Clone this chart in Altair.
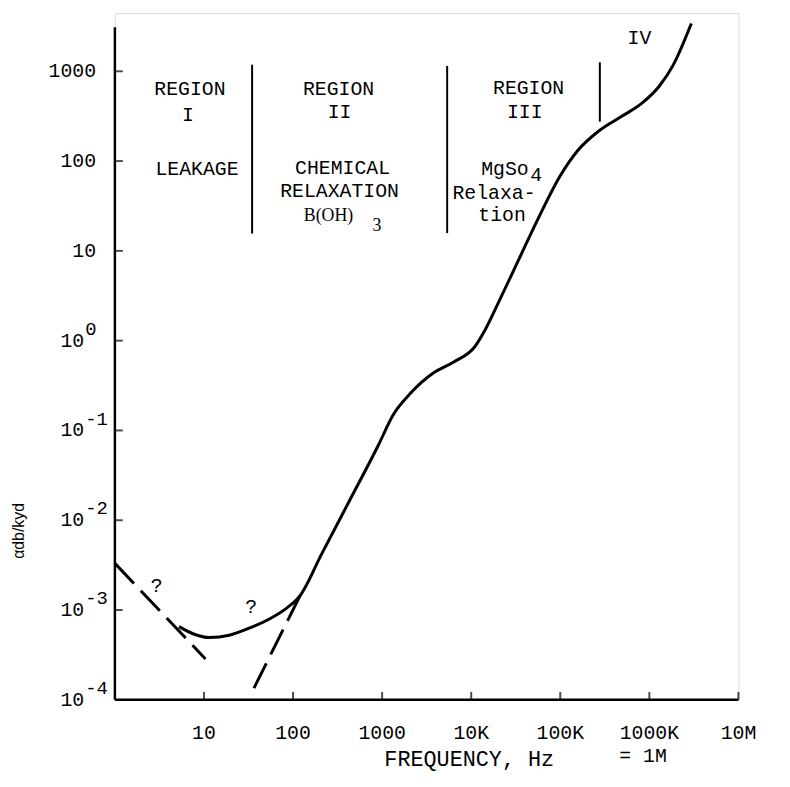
import altair as alt
import pandas as pd

# ---------------- data ----------------
# main solid curve: frequency (Hz) and attenuation alpha (dB/kyd)
curve_freq = [5.25, 7.64, 11.5, 19.2, 32.2, 54.2, 84.7, 120, 209, 437, 918, 1318,
              2080, 3820, 6440, 10900, 14200, 20500, 32900, 57300, 99500, 158000,
              268000, 490000, 826000, 1.29e6, 1.85e6, 2.96e6]
curve_alpha = [6.53e-4, 5.41e-4, 4.94e-4, 5.24e-4, 6.28e-4, 7.94e-4, 1.05e-3, 1.45e-3,
               4.2e-3, 0.0170, 0.0702, 0.147, 0.259, 0.441, 0.583, 0.85, 1.30, 2.74,
               7.38, 23.6, 68.2, 132, 215, 315, 441, 681, 1170, 3400]

# dashed asymptotes
dash_seg = ["leak", "leak", "boric", "boric"]
dash_freq = [1, 10.4, 36.4, 120]
dash_alpha = [3.31e-3, 2.85e-4, 1.35e-4, 1.45e-3]

# region separators
sep_freq = [34.7, 5370, 278000]
sep_low = [15.6, 15.8, 275]
sep_high = [1183, 1148, 1259]

# region annotations
lab_text = ["REGION", "I", "LEAKAGE", "REGION", "II", "CHEMICAL", "RELAXATION",
            "REGION", "III", "MgSo", "Relaxa-", "tion", "IV", "?", "?", "4"]
lab_freq = [6.95, 6.6, 8.34, 324, 333, 360, 333, 44100, 39900, 23900, 18000, 22200,
            773000, 2.95, 33.8, 53700]
lab_alpha = [637, 324, 82.2, 630, 352, 83.6, 46.9, 646, 354, 81.5, 43.9, 25.0,
             2320, 1.87e-3, 1.09e-3, 69.8]

small_text = ["B(OH)", "3"]
small_freq = [250, 875]
small_alpha = [24.2, 18.8]

# axis ticks and labels
x_tick_vals = [10, 100, 1000, 1e4, 1e5, 1e6, 1e7]
x_tick_text = ["10", "100", "1000", "10K", "100K", "1000K", "10M"]
x_extra_text = ["= 1M"]
x_extra_val = [8.5e5]

y_tick_vals = [1e-3, 1e-2, 1e-1, 1, 10, 100, 1000]
y_plain_vals = [10, 100, 1000]
y_plain_text = ["10", "100", "1000"]
y_pow_vals = [1, 0.1, 0.01, 0.001, 0.0001]
y_pow_base = ["10", "10", "10", "10", "10"]
y_pow_exp = ["0", "-1", "-2", "-3", "-4"]

# axis titles (text and anchor in data units)
x_title = ["FREQUENCY, Hz"]
x_title_at = [9500]
y_title = ["αdb/kyd"]
y_title_at = [7.6e-3]

x_min, x_max = 1, 1e7
y_min, y_max = 1e-4, 4467
y_axis_top = 3090

MONO = "Liberation Mono"

xs = alt.Scale(type="log", domain=[x_min, x_max])
ys = alt.Scale(type="log", domain=[y_min, y_max])


def X(f, **kw):
    return alt.X(f, type="quantitative", scale=xs, axis=None, **kw)


def Y(f, **kw):
    return alt.Y(f, type="quantitative", scale=ys, axis=None, **kw)


curve_df = pd.DataFrame({"f": curve_freq, "a": curve_alpha})
curve = alt.Chart(curve_df).mark_line(
    color="black", strokeWidth=3, interpolate="monotone"
).encode(x=X("f"), y=Y("a"), order=alt.Order("f:Q"))

dash_df = pd.DataFrame({"seg": dash_seg, "f": dash_freq, "a": dash_alpha})
dashed = alt.Chart(dash_df).mark_line(
    color="black", strokeWidth=3, strokeDash=[28, 10]
).encode(x=X("f"), y=Y("a"), detail="seg:N")

sep_df = pd.DataFrame({"f": sep_freq, "lo": sep_low, "hi": sep_high})
seps = alt.Chart(sep_df).mark_rule(color="black", strokeWidth=2).encode(
    x=X("f"), y=Y("lo"), y2="hi"
)

# axes lines
yaxis_df = pd.DataFrame({"f": [x_min], "lo": [y_min], "hi": [y_axis_top]})
yaxis_line = alt.Chart(yaxis_df).mark_rule(color="black", strokeWidth=2.5).encode(
    x=X("f"), y=Y("lo"), y2="hi"
)
xaxis_df = pd.DataFrame({"lo": [x_min], "hi": [x_max], "a": [y_min]})
xaxis_line = alt.Chart(xaxis_df).mark_rule(color="black", strokeWidth=2.5).encode(
    x=X("lo"), x2="hi", y=Y("a")
)

ytick_df = pd.DataFrame({"f": [x_min] * len(y_tick_vals), "a": y_tick_vals})
yticks = alt.Chart(ytick_df).mark_tick(
    orient="horizontal", size=8, thickness=2, xOffset=4, color="black"
).encode(x=X("f"), y=Y("a"))

xtick_df = pd.DataFrame({"f": x_tick_vals, "a": [y_min] * len(x_tick_vals)})
xticks = alt.Chart(xtick_df).mark_tick(
    orient="vertical", size=8, thickness=2, yOffset=-4, color="black"
).encode(x=X("f"), y=Y("a"))

# tick labels
xlab_df = pd.DataFrame({"f": x_tick_vals, "a": [y_min] * len(x_tick_vals), "t": x_tick_text})
xlabels = alt.Chart(xlab_df).mark_text(
    font=MONO, fontSize=20, dy=34, align="center", baseline="middle", color="black"
).encode(x=X("f"), y=Y("a"), text="t:N")

xextra_df = pd.DataFrame({"f": x_extra_val, "a": [y_min], "t": x_extra_text})
xextra = alt.Chart(xextra_df).mark_text(
    font=MONO, fontSize=20, dy=57, align="center", baseline="middle", color="black"
).encode(x=X("f"), y=Y("a"), text="t:N")

yplain_df = pd.DataFrame({"f": [x_min] * 3, "a": y_plain_vals, "t": y_plain_text})
yplain = alt.Chart(yplain_df).mark_text(
    font=MONO, fontSize=20, dx=-19, align="right", baseline="middle", color="black"
).encode(x=X("f"), y=Y("a"), text="t:N")

ypow_df = pd.DataFrame({"f": [x_min] * 5, "a": y_pow_vals, "b": y_pow_base, "e": y_pow_exp})
ypow_base = alt.Chart(ypow_df).mark_text(
    font=MONO, fontSize=20, dx=-31, align="right", baseline="middle", color="black"
).encode(x=X("f"), y=Y("a"), text="b:N")
ypow_exp = alt.Chart(ypow_df).mark_text(
    font=MONO, fontSize=19, dx=-30, dy=-12, align="left", baseline="middle", color="black"
).encode(x=X("f"), y=Y("a"), text="e:N")

lab_df = pd.DataFrame({"f": lab_freq, "a": lab_alpha, "t": lab_text})
labels = alt.Chart(lab_df).mark_text(
    font=MONO, fontSize=20, align="center", baseline="middle", color="black"
).encode(x=X("f"), y=Y("a"), text="t:N")

small_df = pd.DataFrame({"f": small_freq, "a": small_alpha, "t": small_text})
small = alt.Chart(small_df).mark_text(
    font="Liberation Serif", fontSize=18, align="center", baseline="middle", color="black"
).encode(x=X("f"), y=Y("a"), text="t:N")

# axis titles
xt_df = pd.DataFrame({"f": x_title_at, "a": [y_min], "t": x_title})
xtitle = alt.Chart(xt_df).mark_text(
    font=MONO, fontSize=22, dy=60, align="center", baseline="middle", color="black"
).encode(x=X("f"), y=Y("a"), text="t:N")

yt_df = pd.DataFrame({"f": [x_min], "a": y_title_at, "t": y_title})
ytitle = alt.Chart(yt_df).mark_text(
    font="Liberation Sans", fontSize=16, xOffset=-97, angle=270, align="center",
    baseline="middle", color="black"
).encode(x=X("f"), y=Y("a"), text="t:N")

chart = alt.layer(
    curve, dashed, seps, yaxis_line, xaxis_line, yticks, xticks,
    xlabels, xextra, yplain, ypow_base, ypow_exp, labels, small, xtitle, ytitle
).properties(
    width=630, height=694,
    padding={"left": 108, "top": 1, "right": 44, "bottom": 74},
    autosize=alt.AutoSizeParams(type="none"),
).configure_view(stroke=None).configure(background="white")

chart.save("out.html", embed_options={"renderer": "svg", "actions": False})
